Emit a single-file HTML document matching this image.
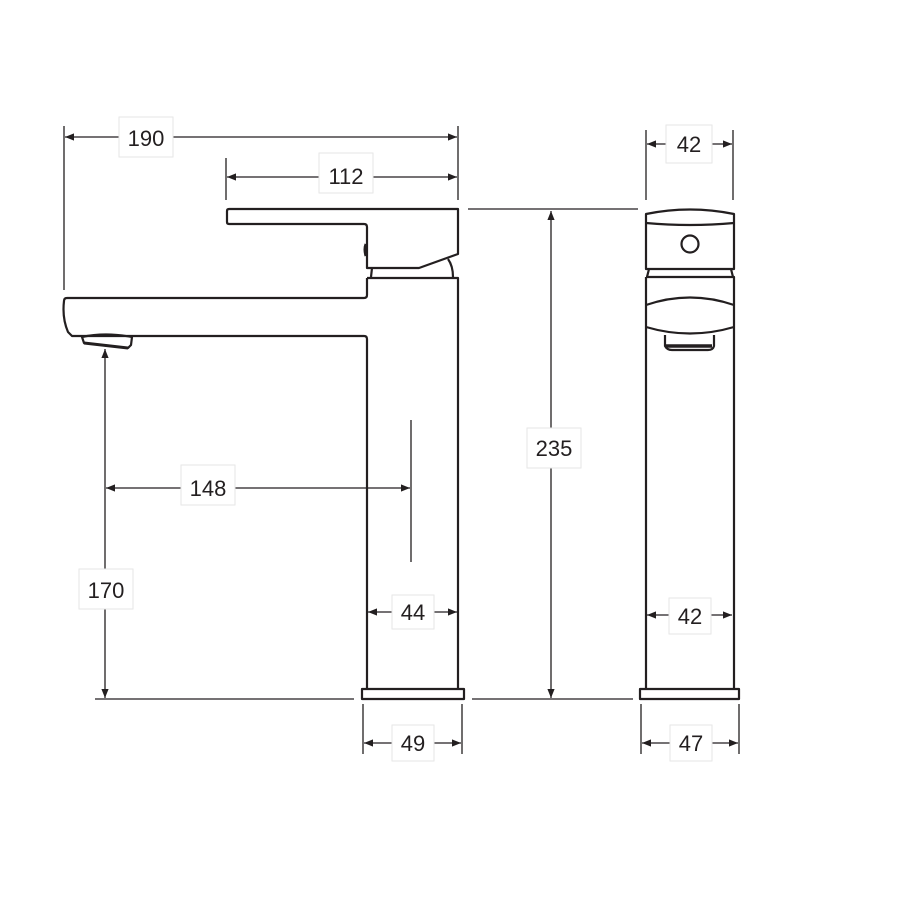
<!DOCTYPE html>
<html><head><meta charset="utf-8"><style>
html,body{margin:0;padding:0;background:#fff}
svg{display:block}
text{font-family:"Liberation Sans",sans-serif;font-size:22px;fill:#231f20}
</style></head><body>
<svg width="900" height="900" viewBox="0 0 900 900" xmlns="http://www.w3.org/2000/svg">
<defs>
<marker id="a" viewBox="0 0 10 10" refX="10" refY="5" markerWidth="9" markerHeight="9" markerUnits="userSpaceOnUse" orient="auto-start-reverse"><path d="M0,1 L10,5 L0,9 z" fill="#231f20"/></marker>
</defs>
<g stroke="#231f20" stroke-width="1.3" fill="none">
<line x1="64" y1="126" x2="64" y2="290"/>
<line x1="458" y1="126" x2="458" y2="200"/>
<line x1="226" y1="158" x2="226" y2="200"/>
<line x1="468" y1="209" x2="638" y2="209"/>
<line x1="646" y1="130" x2="646" y2="200"/>
<line x1="733" y1="130" x2="733" y2="200"/>
<line x1="411" y1="420" x2="411" y2="562"/>
<line x1="95" y1="699" x2="354" y2="699"/>
<line x1="472" y1="699" x2="633" y2="699"/>
<line x1="363" y1="704" x2="363" y2="754"/>
<line x1="462" y1="704" x2="462" y2="754"/>
<line x1="641" y1="704" x2="641" y2="754"/>
<line x1="739" y1="704" x2="739" y2="754"/>
<line x1="65" y1="137" x2="457" y2="137" marker-start="url(#a)" marker-end="url(#a)"/>
<line x1="227" y1="177" x2="457" y2="177" marker-start="url(#a)" marker-end="url(#a)"/>
<line x1="647" y1="144" x2="732" y2="144" marker-start="url(#a)" marker-end="url(#a)"/>
<line x1="551" y1="211" x2="551" y2="698" marker-start="url(#a)" marker-end="url(#a)"/>
<line x1="105" y1="349" x2="105" y2="698" marker-start="url(#a)" marker-end="url(#a)"/>
<line x1="106" y1="488" x2="410" y2="488" marker-start="url(#a)" marker-end="url(#a)"/>
<line x1="368" y1="612" x2="457" y2="612" marker-start="url(#a)" marker-end="url(#a)"/>
<line x1="647" y1="615" x2="732" y2="615" marker-start="url(#a)" marker-end="url(#a)"/>
<line x1="364" y1="743" x2="461" y2="743" marker-start="url(#a)" marker-end="url(#a)"/>
<line x1="642" y1="743" x2="738" y2="743" marker-start="url(#a)" marker-end="url(#a)"/>
</g>
<g stroke="#231f20" stroke-width="2.2" fill="none" stroke-linejoin="round">
<path d="M229,209 L458,209 L458,254 L419,268 L367,268 L367,227 Q367,224 364,224 L229,224 Q227,224 227,222 L227,211 Q227,209 229,209 Z"/>
<path d="M366,244 Q364,249 366,256" stroke-width="3"/>
<path d="M372,268 L371,277 M448,259 Q453,266 453,277"/>
<path d="M367,278 L458,278 L458,689 M367,278 L367,295 Q367,298 364,298 L67,298 Q64,298 64,301 Q62,318 68,332 L72,336 L364,336 Q367,336 367,339 L367,689"/>
<path d="M82,337 Q105,332 132,337 L131,345 L128,348 L84,343 Z"/>
<line x1="84" y1="343" x2="128" y2="348" stroke-width="3"/>
<rect x="362" y="689" width="102" height="10"/>
</g>
<g stroke="#231f20" stroke-width="2.2" fill="none" stroke-linejoin="round">
<path d="M646,214 Q690,205 734,214 L734,269 L646,269 Z"/>
<path d="M646,223 Q690,227 734,223"/>
<circle cx="690" cy="244" r="8.5"/>
<path d="M649,269 L647,277 M731,269 L733,277"/>
<path d="M646,277 L734,277 L734,689 M646,277 L646,689"/>
<path d="M646,305 Q690,290 734,305"/>
<path d="M646,327 Q690,340 734,327"/>
<path d="M665,335 L665,346 Q667,350 672,350 L708,350 Q713,350 714,346 L714,335"/>
<path d="M666,346 L712,346" stroke-width="3.5"/>
<rect x="640" y="689" width="99" height="10"/>
</g>
<g fill="#fff" stroke="#e6e6e6" stroke-width="1">
<rect x="119" y="117" width="54" height="40"/>
<rect x="319" y="153" width="54" height="40"/>
<rect x="666" y="125" width="46" height="38"/>
<rect x="527" y="428" width="54" height="40"/>
<rect x="181" y="465" width="54" height="40"/>
<rect x="79" y="569" width="54" height="40"/>
<rect x="392" y="595" width="42" height="34"/>
<rect x="669" y="598" width="42" height="36"/>
<rect x="392" y="725" width="42" height="36"/>
<rect x="670" y="725" width="42" height="36"/>
</g>
<text x="146" y="146" text-anchor="middle">190</text>
<text x="346" y="184" text-anchor="middle">112</text>
<text x="689" y="152" text-anchor="middle">42</text>
<text x="554" y="456" text-anchor="middle">235</text>
<text x="208" y="496" text-anchor="middle">148</text>
<text x="106" y="598" text-anchor="middle">170</text>
<text x="413" y="620" text-anchor="middle">44</text>
<text x="690" y="624" text-anchor="middle">42</text>
<text x="413" y="751" text-anchor="middle">49</text>
<text x="691" y="751" text-anchor="middle">47</text>
</svg>
</body></html>
